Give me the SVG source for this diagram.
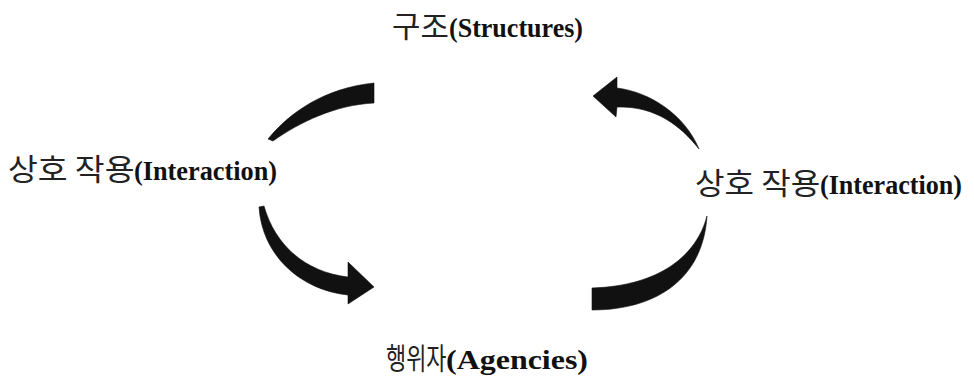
<svg xmlns="http://www.w3.org/2000/svg" width="974" height="378" viewBox="0 0 974 378">
  <style>
    .ko { font-family: "Noto Sans CJK KR", "Noto Sans", sans-serif; font-size: 30px; font-weight: 400; fill: #222; }
    .en { font-family: "Liberation Serif", "Times New Roman", serif; font-size: 28px; font-weight: 700; fill: #111; }
    .arrow { fill: #111; stroke: #111; stroke-width: 0.6; stroke-linejoin: round; }
  </style>
  <rect width="974" height="378" fill="#fff"/>

  <g id="connectors">
    <!-- top-left arc (Interaction -> Structures) -->
    <path class="arrow" d="M 268,139 C 290,112 325,88 374,83 L 374,103 C 335,105 300,122 273,141 Z"/>
    <!-- top-right arrow (Interaction -> Structures) -->
    <path class="arrow" d="M 593,96 L 617,77 L 617,88 C 650,92 685,115 699,149 C 680,125 655,106 617,107 L 616,117 Z"/>
    <!-- bottom-left arrow (Interaction -> Agencies) -->
    <path class="arrow" d="M 259,207 C 262,255 300,290 348,295 L 348,304 L 374,287 L 348,262 L 348,277 C 305,272 275,245 264,206 Z"/>
    <!-- bottom-right arc (Agencies -> Interaction) -->
    <path class="arrow" d="M 592,288 L 592,310 C 655,310 703,280 707,216 C 697,255 660,286 592,288 Z"/>
  </g>

  <g id="structures">
    <text class="ko" transform="translate(392,37) scale(1.03,1)">구조</text>
    <text class="en" x="449" y="37" textLength="134" lengthAdjust="spacingAndGlyphs">(Structures)</text>
  </g>

  <g id="interaction-left">
    <text class="ko" transform="translate(8,180) scale(1.08,1)">상호 작용</text>
    <text class="en" x="134" y="180" textLength="143" lengthAdjust="spacingAndGlyphs">(Interaction)</text>
  </g>

  <g id="interaction-right">
    <text class="ko" transform="translate(695,194) scale(1.07,1)">상호 작용</text>
    <text class="en" x="820" y="194" textLength="142" lengthAdjust="spacingAndGlyphs">(Interaction)</text>
  </g>

  <g id="agencies">
    <text class="ko" transform="translate(386,369) scale(0.73,1)">행위자</text>
    <text class="en" x="446" y="369" textLength="142" lengthAdjust="spacingAndGlyphs">(Agencies)</text>
  </g>
</svg>
